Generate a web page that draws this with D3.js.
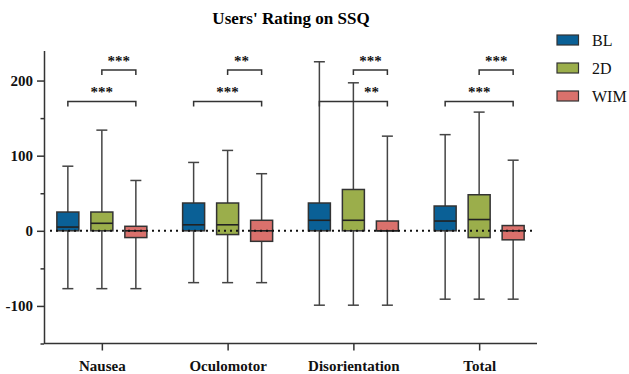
<!DOCTYPE html>
<html><head><meta charset="utf-8">
<script src="https://cdn.jsdelivr.net/npm/d3@7"></script>
<style>body{margin:0;background:#fff}svg{display:block}</style>
</head><body>
<svg id="c" width="629" height="374"></svg>
<script>
// [whiskerLow, q1, median, q3, whiskerHigh] per category
const categories = ["Nausea", "Oculomotor", "Disorientation", "Total"];
const seriesNames = ["BL", "2D", "WIM"];
const seriesColors = ["#0a6096", "#9bae4b", "#da716c"];
const BL  = [[-77, 0, 5, 25, 86], [-69, 0, 8, 37, 91], [-99, 0, 14, 37, 225], [-91, 0, 13, 33, 128]];
const D2  = [[-77, 0, 10, 25, 134], [-69, -5, 8, 37, 107], [-99, 0, 14, 55, 197], [-91, -9, 15, 48, 158]];
const WIM = [[-77, -9, 0, 6, 67], [-69, -14, 0, 14, 76], [-99, 0, 0, 13, 126], [-91, -12, 0, 7, 94]];
const yTicks = [-100, 0, 100, 200];
const yMinorTicks = [-150, -50, 50, 150];
// significance brackets: category, from series, to series, label, bracket height (data units)
const sigCat   = ["Nausea", "Nausea", "Oculomotor", "Oculomotor", "Disorientation", "Disorientation", "Total", "Total"];
const sigFrom  = ["2D", "BL", "2D", "BL", "2D", "BL", "2D", "BL"];
const sigTo    = ["WIM", "WIM", "WIM", "WIM", "WIM", "WIM", "WIM", "WIM"];
const sigLabel = ["***", "***", "**", "***", "***", "**", "***", "***"];
const sigLevel = [214, 172, 214, 172, 214, 172, 214, 172];
const sigLabelShift = [0, 0, -3, 0, 0, 18, 0, 0];

const allSeries = [BL, D2, WIM];
const svg = d3.select("#c");
const serif = "'Liberation Serif','Times New Roman',serif";

const x = d3.scalePoint().domain(categories).range([44, 537]).padding(0.46);
const xs = d3.scalePoint().domain(seriesNames).range([-34, 34]);
const y = d3.scaleLinear().domain([-150, 240]).range([343.5, 50.5]);
const boxW = 22, capW = 11;

// title
svg.append("text").attr("x", 291).attr("y", 24).attr("text-anchor", "middle")
  .attr("font-family", serif).attr("font-weight", "bold").attr("font-size", 17)
  .text("Users' Rating on SSQ");

// y axis
const yAxis = svg.append("g").attr("transform", "translate(44,0)")
  .call(d3.axisLeft(y).tickValues(yTicks).tickSize(7).tickPadding(4).tickSizeOuter(0)
    .tickFormat(d => d < 0 ? "-" + Math.abs(d) : String(d)));
yAxis.attr("font-family", serif);
yAxis.selectAll("text").style("font-family", serif).attr("font-weight", "bold").attr("font-size", 15).attr("fill", "#111");
svg.append("g").attr("transform", "translate(44,0)")
  .call(d3.axisLeft(y).tickValues(yMinorTicks).tickSize(3.5).tickFormat(() => "").tickSizeOuter(0))
  .call(g => g.select(".domain").remove());

// x axis
const xAxis = svg.append("g").attr("transform", "translate(0,343.5)")
  .call(d3.axisBottom(x).tickSize(7).tickPadding(10).tickSizeOuter(0));
xAxis.attr("font-family", serif);
xAxis.select(".domain").attr("d", "M44,0H537");
xAxis.selectAll("text").style("font-family", serif).attr("font-weight", "bold").attr("font-size", 15).attr("fill", "#111");
svg.selectAll(".domain, .tick line").attr("stroke", "#333").attr("stroke-width", 1.5);

// boxes
allSeries.forEach((ser, si) => {
  const g = svg.append("g");
  ser.forEach((st, ci) => {
    const cx = x(categories[ci]) + xs(seriesNames[si]);
    const [lo, q1, med, q3, hi] = st;
    g.append("line").attr("x1", cx).attr("x2", cx).attr("y1", y(hi)).attr("y2", y(q3)).attr("stroke", "#444").attr("stroke-width", 1.5);
    g.append("line").attr("x1", cx).attr("x2", cx).attr("y1", y(q1)).attr("y2", y(lo)).attr("stroke", "#444").attr("stroke-width", 1.5);
    g.append("line").attr("x1", cx - capW / 2).attr("x2", cx + capW / 2).attr("y1", y(hi)).attr("y2", y(hi)).attr("stroke", "#444").attr("stroke-width", 1.5);
    g.append("line").attr("x1", cx - capW / 2).attr("x2", cx + capW / 2).attr("y1", y(lo)).attr("y2", y(lo)).attr("stroke", "#444").attr("stroke-width", 1.5);
    g.append("rect").attr("x", cx - boxW / 2).attr("width", boxW).attr("y", y(q3)).attr("height", Math.max(0, y(q1) - y(q3)))
      .attr("fill", seriesColors[si]).attr("stroke", "#333").attr("stroke-width", 1.5);
    g.append("line").attr("x1", cx - boxW / 2).attr("x2", cx + boxW / 2).attr("y1", y(med)).attr("y2", y(med)).attr("stroke", "#222").attr("stroke-width", 1.6);
  });
});

// dotted zero line
svg.append("line").attr("x1", 50).attr("x2", 536).attr("y1", y(0)).attr("y2", y(0))
  .attr("stroke", "#111").attr("stroke-width", 2).attr("stroke-dasharray", "2,4");

// significance brackets
sigCat.forEach((c, i) => {
  const x1 = x(c) + xs(sigFrom[i]), x2 = x(c) + xs(sigTo[i]), yy = y(sigLevel[i]);
  svg.append("path").attr("d", `M${x1},${yy + 5}V${yy}H${x2}V${yy + 5}`)
    .attr("fill", "none").attr("stroke", "#333").attr("stroke-width", 1.5);
  svg.append("text").attr("x", (x1 + x2) / 2 + sigLabelShift[i]).attr("y", yy - 4.5).attr("text-anchor", "middle")
    .attr("font-family", serif).attr("font-weight", "bold").attr("font-size", 15).attr("fill", "#111")
    .text(sigLabel[i]);
});

// legend
seriesNames.forEach((s, i) => {
  const ly = 35 + i * 28;
  svg.append("rect").attr("x", 557).attr("y", ly).attr("width", 21.5).attr("height", 10)
    .attr("fill", seriesColors[i]).attr("stroke", "#333").attr("stroke-width", 1.2);
  svg.append("text").attr("x", 592).attr("y", ly + 10.5).attr("font-family", serif).attr("font-size", 16).attr("fill", "#111").text(s);
});
</script>
</body></html>
